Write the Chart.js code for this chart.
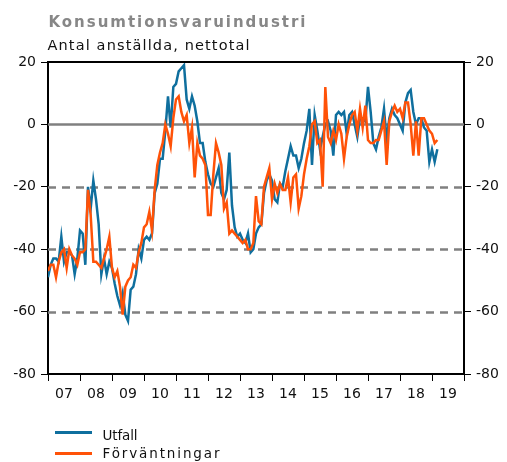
<!DOCTYPE html>
<html>
<head>
<meta charset="utf-8">
<script src="https://cdn.jsdelivr.net/npm/chart.js@4/dist/chart.umd.min.js"></script>
<style>
  html,body{margin:0;padding:0;background:#fff;}
  #wrap{position:relative;width:507px;height:462px;overflow:hidden;font-family:"DejaVu Sans",sans-serif;}
  canvas{position:absolute;left:0;top:0;}
  .t{position:absolute;white-space:nowrap;line-height:normal;margin:0;padding:0;}
  .ln{position:absolute;left:55px;width:37px;height:3px;}
</style>
</head>
<body>
<div id="wrap">
  <canvas id="c" width="507" height="462"></canvas>
  <span id="title" class="t">Konsumtionsvaruindustri</span>
  <span id="sub" class="t">Antal anställda, nettotal</span>
  <div class="ln" id="l1" style="top:431px;"></div>
  <span class="t" id="t1">Utfall</span>
  <div class="ln" id="l2" style="top:452px;"></div>
  <span class="t" id="t2">Förväntningar</span>
</div>
<script>
// ---- data (monthly, starting Jan 2007) ----
const seriesNames = ['Utfall', 'Förväntningar'];
const yearLabels = ['07','08','09','10','11','12','13','14','15','16','17','18','19'];
const yTicks = [20, 0, -20, -40, -60, -80];
const utfall = [
 -49,-45,-43,-43,-44,-36,-44,-41,-41,-42,-48,-43,
 -34,-35,-45,-20,-27,-18,-24,-32,-48,-43,-48,-44,
 -46,-51,-55,-58,-54,-61,-63,-53,-52,-48,-40,-43,
 -37,-36,-37,-35,-22,-19,-11,-11,-2,9,-1,12,
 13,17,18,19,8,5,9,6,1,-6,-6,-12,
 -16,-19,-20,-17,-14,-22,-24,-21,-9,-26,-33,-36,
 -35,-37,-38,-35,-41,-40,-35,-33,-32,-22,-18,-16,
 -18,-24,-25,-19,-20,-15,-11,-7,-10,-10,-14,-11,
 -6,-2,5,-13,3,-2,-8,-4,0,1,-2,-10,
 3,4,3,4,-3,3,4,0,-4,2,2,1,
 12,4,-6,-8,-4,-1,5,-5,2,5,3,2,
 0,-2,7,10,11,4,0,2,2,-1,-2,-12,
 -8,-12,-8
];
const forvantningar = [
 -47,-45,-45,-49,-44,-41,-40,-46,-40,-42,-43,-45,
 -41,-41,-40,-21,-29,-44,-44,-45,-46,-43,-40,-36,
 -46,-49,-47,-52,-61,-52,-50,-49,-45,-46,-41,-38,
 -33,-32,-28,-34,-21,-13,-9,-6,0,-3,-7,2,
 8,9,4,1,3,-6,-1,-17,-6,-10,-11,-13,
 -29,-29,-16,-6,-9,-13,-27,-25,-35,-34,-35,-36,
 -37,-38,-37,-40,-40,-38,-23,-31,-32,-20,-17,-14,
 -24,-19,-22,-19,-21,-21,-17,-25,-17,-16,-27,-23,
 -16,-11,-7,0,1,-6,-5,-20,12,-4,-6,-2,
 -5,0,-3,-11,-4,0,3,4,-2,5,-1,6,
 -5,-6,-6,-5,-5,-2,1,-13,1,4,6,4,
 5,2,7,7,0,-10,1,-10,2,2,0,-2,
 -3,-6,-5
];
const colors = ['#0f6f9e', '#ff5208'];

document.getElementById('l1').style.background = colors[0];
document.getElementById('l2').style.background = colors[1];

// text placement: fit each text to its width in the reference
function placeText(id, left, baseline, size, width, weight, color) {
  const el = document.getElementById(id);
  el.style.fontSize = size + 'px';
  el.style.fontWeight = weight;
  el.style.color = color;
  el.style.left = left + 'px';
  el.style.top = (baseline - 0.928 * size) + 'px';
  el.style.letterSpacing = '0px';
  const w0 = el.getBoundingClientRect().width;
  const n = el.textContent.length;
  const ls = (width - w0) / (n - 1);
  el.style.letterSpacing = ls.toFixed(3) + 'px';
}
placeText('title', 48.5, 26.7, 15, 257, 'bold', '#878787');
placeText('sub', 47.5, 50.7, 14.5, 202, 'normal', '#111');
placeText('t1', 102.5, 439.2, 13.5, 35, 'normal', '#111');
placeText('t2', 102.5, 457.7, 13.5, 117, 'normal', '#111');

const toPts = arr => arr.map((v, i) => ({x: i, y: v}));

const gridPlugin = {
  id: 'gridPlugin',
  beforeDatasetsDraw(chart) {
    const {ctx, chartArea: a} = chart;
    const ys = chart.scales.y;
    ctx.save();
    ctx.strokeStyle = '#808080';
    ctx.lineWidth = 2.5;
    [-20, -40, -60].forEach(v => {
      const py = Math.round(ys.getPixelForValue(v)) + 0.5;
      ctx.setLineDash([8, 6]);
      ctx.beginPath(); ctx.moveTo(a.left, py); ctx.lineTo(a.right, py); ctx.stroke();
    });
    ctx.setLineDash([]);
    const p0 = Math.round(ys.getPixelForValue(0)) + 0.5;
    ctx.beginPath(); ctx.moveTo(a.left, p0); ctx.lineTo(a.right, p0); ctx.stroke();
    ctx.restore();
  },
  afterDatasetsDraw(chart) {
    const {ctx, chartArea: a} = chart;
    ctx.save();
    ctx.strokeStyle = '#000';
    ctx.lineWidth = 2;
    ctx.beginPath(); ctx.moveTo(a.left - 1, a.top); ctx.lineTo(a.right + 1, a.top); ctx.stroke();
    ctx.restore();
  }
};

const tickFont = {family: 'DejaVu Sans', size: 14};
const yAxis = (pos, w) => ({
  type: 'linear', position: pos, min: -80, max: 20,
  afterBuildTicks: s => { s.ticks = yTicks.map(v => ({value: v})); },
  afterFit: s => { s.width = w; },
  ticks: {font: tickFont, color: '#111', padding: 5, autoSkip: false},
  grid: {drawOnChartArea: false, tickLength: 7, color: '#000', lineWidth: 1},
  border: {display: true, color: '#000', width: 2}
});

new Chart(document.getElementById('c'), {
  type: 'line',
  data: {
    datasets: [
      {label: seriesNames[0], data: toPts(utfall), borderColor: colors[0], borderWidth: 2.5, pointRadius: 0, tension: 0, fill: false, order: 1},
      {label: seriesNames[1], data: toPts(forvantningar), borderColor: colors[1], borderWidth: 2.5, pointRadius: 0, tension: 0, fill: false, order: 0}
    ]
  },
  options: {
    responsive: false,
    animation: false,
    devicePixelRatio: 1,
    layout: {padding: {top: 62, left: 0, right: 0, bottom: 0}},
    plugins: {legend: {display: false}, tooltip: {enabled: false}, title: {display: false}},
    scales: {
      x: {
        type: 'linear', min: 0, max: 156,
        afterBuildTicks: s => {
          const t = [];
          for (let i = 0; i <= yearLabels.length * 2; i++) t.push({value: i * 6});
          s.ticks = t;
        },
        afterFit: s => { s.height = 88; },
        ticks: {
          font: tickFont, color: '#111', padding: 5, autoSkip: false, maxRotation: 0,
          callback: v => (v % 12 === 6) ? yearLabels[(v - 6) / 12] : ''
        },
        grid: {
          drawOnChartArea: false, tickLength: 7, lineWidth: 1,
          color: c => (c.tick && c.tick.value % 12 === 0) ? '#000' : 'rgba(0,0,0,0)'
        },
        border: {display: true, color: '#000', width: 2}
      },
      y: yAxis('left', 48),
      y2: yAxis('right', 43)
    }
  },
  plugins: [gridPlugin]
});
</script>
</body>
</html>
